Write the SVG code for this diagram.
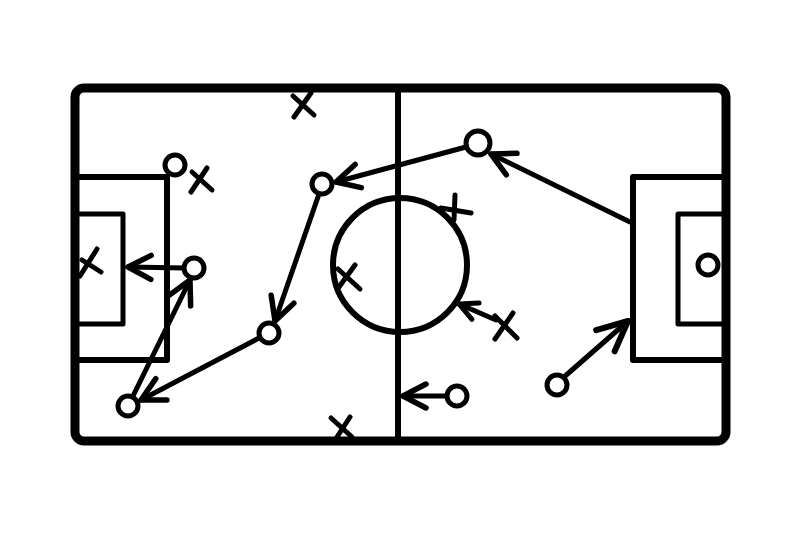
<svg xmlns="http://www.w3.org/2000/svg" width="800" height="533" viewBox="0 0 800 533">
<style>
.f{fill:none;stroke:#000;stroke-linecap:round;stroke-linejoin:round}
.pl{fill:#fff;stroke:#000;stroke-width:5}
.x{stroke:#000;stroke-width:5;stroke-linecap:round}
.a{fill:none;stroke:#000;stroke-width:5;stroke-linecap:round}
</style>
<defs>
<marker id="ah" markerUnits="userSpaceOnUse" markerWidth="40" markerHeight="40" refX="0" refY="0" viewBox="-30 -20 40 40" orient="auto" overflow="visible">
<path d="M-23,-12 L0,0 L-23,12" fill="none" stroke="#000" stroke-width="5.5" stroke-linecap="round" stroke-linejoin="round"/>
</marker>
<marker id="ahs" markerUnits="userSpaceOnUse" markerWidth="40" markerHeight="40" refX="0" refY="0" viewBox="-30 -20 40 40" orient="auto" overflow="visible">
<path d="M-18,-9 L0,0 L-18,9" fill="none" stroke="#000" stroke-width="5" stroke-linecap="round" stroke-linejoin="round"/>
</marker>
<marker id="ahl" markerUnits="userSpaceOnUse" markerWidth="50" markerHeight="50" refX="0" refY="0" viewBox="-40 -25 50 50" orient="auto" overflow="visible">
<path d="M-30,-14 L0,0 L-30,14" fill="none" stroke="#000" stroke-width="6" stroke-linecap="round" stroke-linejoin="round"/>
</marker>
</defs>
<rect width="800" height="533" fill="#fff"/>
<g id="pitch" class="f">
<rect x="75" y="88" width="651" height="353" rx="9" stroke-width="9"/>
<line x1="398" y1="88" x2="398" y2="441" stroke-width="6"/>
<circle cx="400" cy="265" r="67" stroke-width="6"/>
<polyline points="75,177 167,177 167,360 75,360" stroke-width="6" stroke-linecap="butt"/>
<polyline points="75,214 123,214 123,324 75,324" stroke-width="5" stroke-linecap="butt"/>
<polyline points="726,177 633,177 633,360 726,360" stroke-width="6" stroke-linecap="butt"/>
<polyline points="726,214 678,214 678,324 726,324" stroke-width="5" stroke-linecap="butt"/>
</g>
<g id="connectors">
<line class="a" x1="630" y1="222" x2="491" y2="154" stroke-width="7" marker-end="url(#ah)"/>
<line class="a" x1="466" y1="147" x2="336" y2="182" stroke-width="7" marker-end="url(#ah)"/>
<line class="a" x1="319" y1="194" x2="275" y2="321" marker-end="url(#ah)"/>
<line class="a" x1="259" y1="338" x2="141" y2="400" marker-end="url(#ah)"/>
<line class="a" x1="133" y1="396" x2="190" y2="280" marker-end="url(#ah)"/>
<line class="a" x1="185" y1="268" x2="128" y2="267" marker-end="url(#ah)"/>
<line class="a" x1="446" y1="396" x2="403" y2="396" marker-end="url(#ah)"/>
<line class="a" x1="496" y1="320" x2="459" y2="304" marker-end="url(#ahs)"/>
<line class="a" x1="564" y1="377" x2="628" y2="321" stroke-width="6" marker-end="url(#ahl)"/>
</g>
<g id="p1"><circle class="pl" cx="175" cy="165" r="10"/></g>
<g id="p2"><circle class="pl" cx="194" cy="268" r="10"/></g>
<g id="p3"><circle class="pl" cx="128" cy="406" r="10"/></g>
<g id="p4"><circle class="pl" cx="269" cy="333" r="10"/></g>
<g id="p5"><circle class="pl" cx="322" cy="184" r="10"/></g>
<g id="p6"><circle class="pl" cx="478" cy="143" r="12" stroke-width="6"/></g>
<g id="p7"><circle class="pl" cx="457" cy="396" r="10"/></g>
<g id="p8"><circle class="pl" cx="557" cy="385" r="10"/></g>
<g id="p9"><circle class="pl" cx="708" cy="265" r="10"/></g>
<g id="x1"><line class="x" x1="293" y1="96" x2="314" y2="115"/><line class="x" x1="311" y1="93" x2="294" y2="117"/></g>
<g id="x2"><line class="x" x1="191" y1="192" x2="207" y2="168"/><line class="x" x1="192" y1="172" x2="212" y2="190"/></g>
<g id="x3"><line class="x" x1="80" y1="276" x2="97" y2="249"/><line class="x" x1="82" y1="260" x2="101" y2="272"/></g>
<g id="x4"><line class="x" x1="455" y1="195" x2="454" y2="220"/><line class="x" x1="441" y1="208" x2="471" y2="213"/></g>
<g id="x5"><line class="x" x1="338" y1="269" x2="360" y2="289"/><line class="x" x1="355" y1="265" x2="339" y2="287"/></g>
<g id="x6"><line class="x" x1="495" y1="316" x2="517" y2="338"/><line class="x" x1="513" y1="313" x2="495" y2="339"/></g>
<g id="x7"><line class="x" x1="331" y1="418" x2="352" y2="437"/><line class="x" x1="350" y1="417" x2="337" y2="437"/></g>
</svg>
